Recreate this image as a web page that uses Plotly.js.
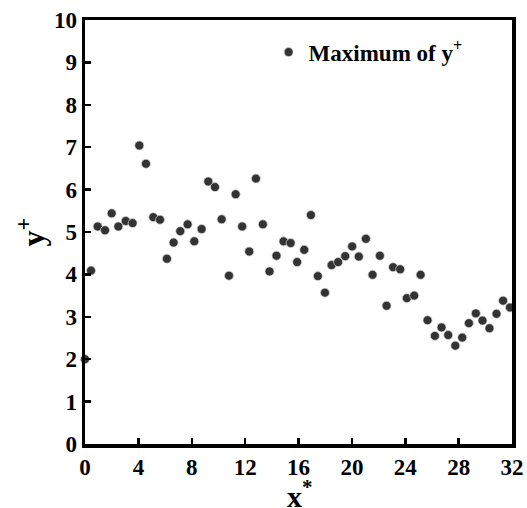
<!DOCTYPE html>
<html>
<head>
<meta charset="utf-8">
<script src="https://cdn.plot.ly/plotly-3.0.1.min.js"></script>
<style>html,body{margin:0;padding:0;background:#fff;}#chart{width:527px;height:508px;}</style>
</head>
<body>
<div id="chart"></div>
<script>
const xValues = [0, 0.45, 0.95, 1.5, 2.0, 2.5, 3.05, 3.57, 4.07, 4.57, 5.12, 5.62, 6.14, 6.64, 7.14, 7.69, 8.19, 8.74, 9.24, 9.74, 10.24,
  10.79, 11.29, 11.78, 12.31, 12.81, 13.33, 13.83, 14.35, 14.88, 15.41, 15.9, 16.43, 16.93, 17.45, 17.98, 18.48, 18.97, 19.5, 20.02, 20.52,
  21.05, 21.55, 22.1, 22.6, 23.09, 23.62, 24.12, 24.67, 25.15, 25.67, 26.22, 26.72, 27.22, 27.75, 28.27, 28.77, 29.29, 29.79, 30.31, 30.84, 31.33, 31.85];
const yPlusMax = [2.0, 4.09, 5.13, 5.04, 5.44, 5.13, 5.26, 5.21, 7.04, 6.61, 5.35, 5.29, 4.37, 4.75, 5.02, 5.18, 4.78, 5.07, 6.19, 6.06, 5.30,
  3.97, 5.89, 5.13, 4.54, 6.26, 5.18, 4.07, 4.44, 4.78, 4.74, 4.29, 4.58, 5.40, 3.96, 3.57, 4.22, 4.29, 4.43, 4.66, 4.42,
  4.84, 3.99, 4.44, 3.26, 4.17, 4.12, 3.44, 3.50, 3.99, 2.92, 2.55, 2.75, 2.57, 2.32, 2.51, 2.85, 3.08, 2.91, 2.73, 3.07, 3.38, 3.22];
const seriesName = '<b>Maximum of y<sup>+</sup></b>';
const xTitle = 'x<sup>*</sup>';
const yTitle = 'y<sup>+</sup>';
const xTicks = [0, 4, 8, 12, 16, 20, 24, 28, 32];
const yTicks = [0, 1, 2, 3, 4, 5, 6, 7, 8, 9, 10];

const serif = 'Liberation Serif, Times New Roman, serif';
const trace = {
  x: xValues, y: yPlusMax, type: 'scatter', mode: 'markers', name: seriesName,
  marker: {size: 9, color: '#333333', line: {color: '#d8d8d8', width: 0.7}},
  cliponaxis: false
};
const axisCommon = {
  showgrid: false, zeroline: false, showline: true, linecolor: '#000', linewidth: 3.5, mirror: true,
  ticks: 'inside', ticklen: 6, tickwidth: 2.5, tickcolor: '#000',
  tickfont: {family: serif, size: 23, color: '#000', weight: 'bold'}
};
const layout = {
  width: 527, height: 508,
  margin: {l: 85, r: 15, t: 20, b: 64},
  paper_bgcolor: '#fff', plot_bgcolor: '#fff',
  showlegend: true,
  legend: {x: 0.43, y: 0.975, xanchor: 'left', yanchor: 'top', bgcolor: 'rgba(0,0,0,0)',
    font: {family: serif, size: 23, color: '#000', weight: 'bold'}},
  xaxis: Object.assign({}, axisCommon, {range: [0, 32], tickvals: xTicks, ticktext: xTicks.map(String)}),
  yaxis: Object.assign({}, axisCommon, {range: [0, 10], tickvals: yTicks, ticktext: yTicks.map(String),
    title: {text: yTitle, font: {family: serif, size: 32, color: '#000', weight: 'bold'}, standoff: 0}}),
  annotations: [{
    text: xTitle, xref: 'paper', yref: 'paper', x: 0.503, y: -0.069, xanchor: 'center', yanchor: 'top',
    showarrow: false, font: {family: serif, size: 30, color: '#000', weight: 'bold'}
  }]
};
Plotly.newPlot('chart', [trace], layout, {displayModeBar: false, staticPlot: true});
</script>
</body>
</html>
